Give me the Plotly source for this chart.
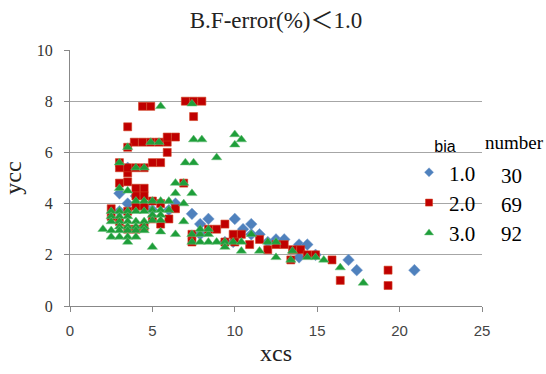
import plotly.graph_objects as go

# ---- data ----
bia_labels = ["1.0", "2.0", "3.0"]
bia_counts = ["30", "69", "92"]

blue_x = [3.0, 3.5, 3.5, 6.4, 7.4, 7.9, 8.4, 10.0, 10.5, 11.0, 11.5, 12.5, 13.0, 13.9, 14.4,
          13.9, 16.9, 17.4, 20.9, 4.0, 5.0, 6.0, 9.4, 9.9, 12.0, 14.9, 7.9, 11.0, 4.5, 3.0]
blue_y = [4.4, 5.4, 4.0, 4.0, 3.6, 3.2, 3.4, 3.4, 3.0, 3.2, 2.8, 2.6, 2.6, 2.4, 2.4,
          1.9, 1.8, 1.4, 1.4, 4.3, 3.75, 3.75, 2.5, 2.5, 2.5, 2.0, 2.8, 2.8, 3.9, 3.7]

red_x = [4.4, 4.9, 7.0, 7.5, 8.0, 7.5, 3.5,
         3.9, 4.4, 4.9, 5.4, 5.9, 5.9, 6.4, 5.9, 3.5,
         3.0, 3.0, 3.5, 3.5, 4.0, 4.5, 5.0, 5.5,
         3.5, 3.0, 4.0, 4.5, 4.0, 4.5, 4.0, 4.5, 3.5,
         5.0, 5.5, 6.0, 5.5, 6.4, 2.5, 3.5, 4.0,
         7.4, 8.4, 8.9, 9.4, 9.9, 10.4, 10.9, 11.5, 12.0, 12.5, 13.0, 13.5, 14.0, 14.4, 14.9,
         15.9, 16.4, 19.3, 19.3,
         3.0, 4.5, 5.0, 7.4, 9.4, 2.5, 6.9, 10.0, 13.4]
red_y = [7.8, 7.8, 8.0, 8.0, 8.0, 7.4, 7.0,
         6.4, 6.4, 6.4, 6.4, 6.4, 6.6, 6.6, 6.0, 6.2,
         5.6, 5.4, 5.2, 5.4, 5.4, 5.4, 5.6, 5.6,
         4.85, 4.8, 4.6, 4.6, 4.3, 4.3, 3.9, 3.9, 3.7,
         3.4, 3.2, 3.4, 4.0, 3.8, 3.8, 3.0, 3.0,
         2.8, 3.0, 3.0, 3.2, 2.8, 2.8, 2.4, 2.6, 2.2, 2.4, 2.4, 2.2, 2.2, 2.0, 2.0,
         1.8, 1.0, 1.4, 0.8,
         3.3, 3.1, 4.1, 2.5, 2.5, 3.5, 4.8, 2.5, 1.8]

green_x = [5.5, 7.4, 7.5, 8.0, 10.0, 10.4, 10.0, 8.9, 7.0, 7.5, 4.9, 5.4, 3.5, 3.0, 4.0, 4.5,
           3.5, 3.0, 6.4, 6.9, 7.4, 6.4, 4.0, 4.5, 5.0, 5.5, 6.0, 6.9, 5.0, 5.5, 6.0, 5.0, 5.5,
           5.0, 5.5, 6.9, 5.5, 6.4, 5.0, 2.0,
           2.5, 3.0, 3.5, 4.0, 4.5,
           2.5, 3.0, 3.5,
           2.5, 3.0, 3.5, 4.0, 4.5,
           3.0, 3.5, 4.0, 4.5,
           2.5, 3.0, 3.5, 4.0, 4.5,
           2.5, 3.0, 3.5, 4.0,
           3.5,
           7.4, 7.9, 8.4, 8.9, 9.4, 9.9, 10.4, 7.4, 7.9, 8.4, 7.9, 8.4, 9.4, 10.4, 11.5, 12.0,
           12.5, 12.5, 13.5, 13.4, 14.4, 14.9, 11.0,
           15.4, 16.4, 17.8]
green_y = [7.8, 7.9, 6.5, 6.5, 6.7, 6.5, 6.3, 5.8, 5.6, 5.6, 6.4, 6.4, 6.2, 5.6, 5.4, 5.4,
           4.5, 4.6, 4.8, 4.8, 4.4, 4.4, 4.1, 4.1, 4.1, 4.1, 4.1, 4.0, 3.75, 3.75, 3.75, 3.55, 3.55,
           3.35, 3.35, 3.3, 2.9, 2.8, 2.3, 3.0,
           3.7, 3.7, 3.7, 3.7, 3.7,
           3.5, 3.5, 3.5,
           3.3, 3.3, 3.3, 3.3, 3.3,
           3.1, 3.1, 3.1, 3.1,
           2.95, 2.95, 2.95, 2.95, 2.95,
           2.7, 2.7, 2.7, 2.7,
           2.5,
           2.5, 2.5, 2.5, 2.5, 2.5, 2.5, 2.5, 2.8, 2.8, 2.8, 3.0, 3.0, 2.3, 2.15, 2.15, 2.5,
           2.5, 1.9, 2.15, 1.8, 1.9, 1.9, 2.8,
           1.8, 1.5, 0.9]

x_ticks = [0, 5, 10, 15, 20, 25]
y_ticks = [0, 2, 4, 6, 8, 10]

serif = "Liberation Serif, Times New Roman, serif"
sans = "Liberation Sans, Arial, sans-serif"

styles = [
    dict(symbol="diamond", size=9, color="#4F81BD", line=dict(width=0.5, color="#7FA3D0")),
    dict(symbol="square", size=8, color="#C00000", line=dict(width=0.6, color="#D04020")),
    dict(symbol="triangle-up", size=9, color="#1E9E3A", line=dict(width=0.5, color="#6CC07A")),
]
legend_sizes = [7, 7, 8]

fig = go.Figure()
for lab, xs, ys, st in zip(bia_labels, [blue_x, red_x, green_x], [blue_y, red_y, green_y], styles):
    fig.add_trace(go.Scatter(x=xs, y=ys, mode="markers", name=lab, showlegend=False, marker=st))
# legend entries with the small legend symbols of the reference
for lab, st, ls in zip(bia_labels, styles, legend_sizes):
    m = dict(st)
    m["size"] = ls
    fig.add_trace(go.Scatter(x=[None], y=[None], mode="markers", name=lab,
                             showlegend=True, marker=m))

annotations = [dict(text="number", xref="paper", yref="paper", x=(514 - 66.5) / 415,
                    y=(308 - 143) / 258, showarrow=False, xanchor="center", yanchor="middle",
                    font=dict(family=serif, size=19, color="#000"))]
row_y = [177, 206, 235]
for c, py in zip(bia_counts, row_y):
    annotations.append(dict(text=c, xref="paper", yref="paper", x=(511 - 66.5) / 415,
                            y=(308 - py) / 258, showarrow=False, xanchor="center",
                            yanchor="middle", font=dict(family=serif, size=21, color="#000")))

fig.update_layout(
    width=546, height=374,
    margin=dict(l=66, r=64, t=50, b=66),
    paper_bgcolor="white", plot_bgcolor="white",
    title=dict(text="B.F-error(%)<span style='font-family:Noto Sans CJK JP'>＜</span>1.0",
               x=0.5, xref="paper", y=1 - 20 / 374,
               yref="container", yanchor="middle", xanchor="center",
               font=dict(family=serif, size=23, color="#222")),
    xaxis=dict(range=[0, 25], tickvals=x_ticks, ticks="outside", ticklen=5,
               tickcolor="#888", showline=True, linecolor="#888", linewidth=1,
               showgrid=False, zeroline=False, ticklabelstandoff=6,
               tickfont=dict(family=sans, size=15, color="#444"),
               title=dict(text="xcs", standoff=6, font=dict(family=serif, size=24, color="#222"))),
    yaxis=dict(range=[0, 10], tickvals=y_ticks, ticks="outside", ticklen=5,
               tickcolor="#888", showline=True, linecolor="#888", linewidth=1,
               showgrid=True, gridcolor="#A6A6A6", gridwidth=1, zeroline=False,
               ticklabelstandoff=8,
               tickfont=dict(family=serif, size=16, color="#333"),
               title=dict(text="ycc", standoff=8, font=dict(family=serif, size=24, color="#222"))),
    legend=dict(x=(408 - 66.5) / 415, xref="paper", y=(308 - 132) / 258, yref="paper",
                xanchor="left", yanchor="top", bgcolor="rgba(0,0,0,0)",
                title=dict(text="bia", side="top center",
                           font=dict(family=sans, size=16, color="#000")),
                font=dict(family=serif, size=21, color="#000"), itemsizing="trace"),
    annotations=annotations,
    showlegend=True,
)

fig.write_html("out.html")
